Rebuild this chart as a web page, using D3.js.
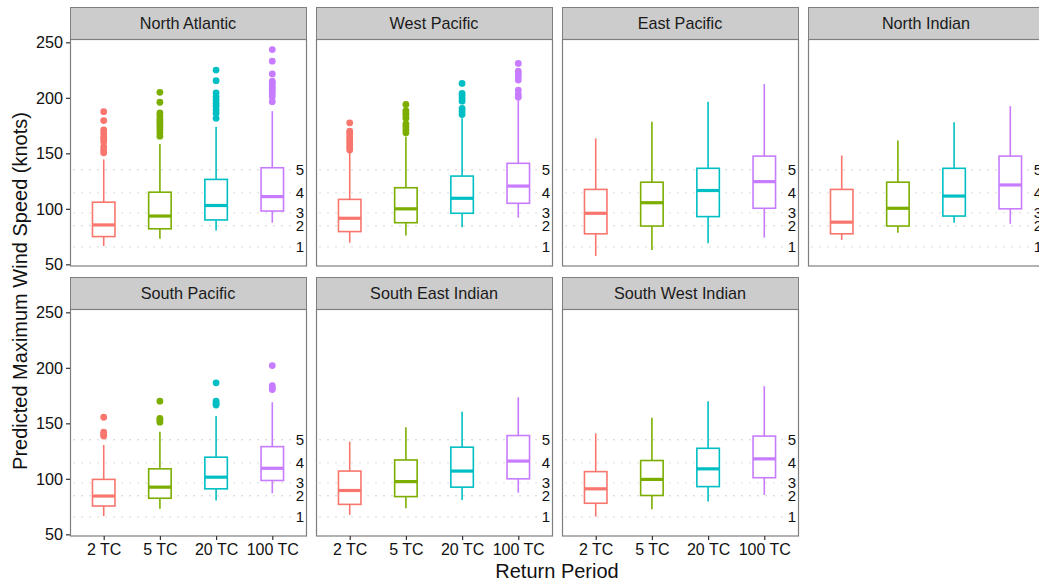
<!DOCTYPE html>
<html>
<head>
<meta charset="utf-8">
<script src="https://cdn.jsdelivr.net/npm/d3@7"></script>
<style>
  body { margin: 0; background: #fff; }
  svg { display: block; font-family: "Liberation Sans", Arial, sans-serif; }
</style>
</head>
<body>
<div id="chart"></div>
<script>
// Data
const regions = ["North Atlantic", "West Pacific", "East Pacific", "North Indian",
                 "South Pacific", "South East Indian", "South West Indian"];
const periods = ["2 TC", "5 TC", "20 TC", "100 TC"];
const colors = ["#F8766D", "#7CAE00", "#00BFC4", "#C77CFF"];

const lowerWhisker = [
    [66.5, 73, 80.5, 87.5],
    [69.5, 76, 83.5, 92],
    [57.5, 63, 69, 74],
    [72, 78.5, 87.5, 86.5],
    [66.5, 73, 80.5, 87],
    [67.5, 73.5, 81, 87.5],
    [66, 72.5, 79.5, 85.5]
];
const q1 = [
    [75, 82, 90, 98],
    [79.5, 87.5, 96, 105],
    [77.5, 84.5, 93, 100.5],
    [77.5, 84.5, 93.5, 100],
    [75.5, 82.5, 91, 98.5],
    [77, 84, 92.5, 100],
    [78, 85, 93, 101]
];
const median = [
    [85.5, 93.5, 103, 111],
    [91.5, 100, 109.5, 120.5],
    [96, 105.5, 116.5, 124.5],
    [88, 100.5, 111.5, 121.5],
    [84.5, 92.5, 101.5, 109.5],
    [89.5, 97.5, 107, 116],
    [91, 99.5, 109, 118]
];
const q3 = [
    [106, 115, 126.5, 137],
    [108.5, 119, 129.5, 141],
    [117.5, 124, 136.5, 147.5],
    [117.5, 124, 136.5, 147.5],
    [99.5, 109, 119.5, 129],
    [107, 117, 128.5, 139],
    [106.5, 116.5, 127.5, 138.5]
];
const upperWhisker = [
    [144.5, 158.5, 174, 188],
    [151, 165, 181.5, 197.5],
    [163.5, 178.5, 196.5, 212.5],
    [148, 161.5, 178, 192.5],
    [130.5, 142.5, 156.5, 169],
    [133.5, 146.5, 160.5, 173.5],
    [141, 155, 170, 183.5]
];
const outliers = [
    [[150.5, 153, 156, 160.5, 163, 165, 168, 171, 179.5, 187.5],
     [165.5, 168.5, 171.5, 174, 176.5, 179, 181, 184, 186.5, 196, 205],
     [181.5, 186, 189, 192.5, 195, 198, 201, 204.5, 215.5, 225],
     [196.5, 201, 204, 206.5, 208.5, 210.5, 213, 215, 221.5, 233, 243.5]],
    [[153, 155.5, 158, 160.5, 163, 165.5, 168, 170, 177.5],
     [168.5, 171, 174, 176.5, 181.5, 184, 186, 188.5, 194],
     [185, 188, 190.5, 197, 199.5, 202, 204, 213],
     [200.5, 203, 207, 216, 219, 221.5, 224, 231]],
    [[], [], [], []],
    [[], [], [], []],
    [[138.5, 140, 142, 155.5],
     [151, 153, 154.5, 170],
     [166.5, 168, 170, 186.5],
     [180.5, 182, 184, 202]],
    [[], [], [], []],
    [[], [], [], []]
];

// Saffir-Simpson category thresholds as drawn
const categoryValues = [65.7, 84.7, 96.4, 114.4, 135.2];
const categoryLabels = ["1", "2", "3", "4", "5"];
const yTicks = [50, 100, 150, 200, 250];

function drawChart() {
    const W = 1039, H = 585;
    const left = 70, panelW = 236, gap = 10;
    const stripH = 32, panelH = 227;
    const rowTop = [7, 277];
    const nCol = 4;

    const svg = d3.select("#chart")
        .append("svg")
        .attr("width", W)
        .attr("height", H);

    svg.append("rect")
        .attr("width", W)
        .attr("height", H)
        .attr("fill", "#fff");

    const x = d3.scalePoint()
        .domain(periods)
        .range([0, panelW])
        .padding(0.6);

    const y = d3.scaleLinear()
        .domain([48.5, 253])
        .range([panelH, 0]);

    const boxW = 22.5;

    regions.forEach((name, r) => {
        const col = r % nCol, row = Math.floor(r / nCol);
        const px = left + col * (panelW + gap);
        const py = rowTop[row] + stripH;

        // Strip
        const strip = svg.append("g")
            .attr("transform", `translate(${px},${rowTop[row]})`);
        strip.append("rect")
            .attr("x", 0.5).attr("y", 0.5)
            .attr("width", panelW).attr("height", stripH)
            .attr("fill", "#cccccc")
            .attr("stroke", "#7f7f7f")
            .attr("stroke-width", 1);
        strip.append("text")
            .attr("x", panelW / 2)
            .attr("y", stripH / 2 + 5.8)
            .attr("text-anchor", "middle")
            .style("font-size", "16.2px")
            .attr("fill", "#1a1a1a")
            .text(name);

        const g = svg.append("g")
            .attr("transform", `translate(${px},${py})`);

        g.append("rect")
            .attr("width", panelW)
            .attr("height", panelH)
            .attr("fill", "#fff");

        // Category reference lines
        categoryValues.forEach((v, i) => {
            g.append("line")
                .attr("x1", 4).attr("x2", panelW - 14)
                .attr("y1", y(v)).attr("y2", y(v))
                .attr("stroke", "#c8c8c8")
                .attr("stroke-width", 1.4)
                .attr("stroke-linecap", "round")
                .attr("stroke-dasharray", "0.1,7.9");
            g.append("text")
                .attr("x", panelW - 6)
                .attr("y", y(v) + 5)
                .attr("text-anchor", "middle")
                .style("font-size", "15px")
                .attr("fill", "#111")
                .text(categoryLabels[i]);
        });

        // Boxes
        periods.forEach((p, k) => {
            const cx = x(p);
            const c = colors[k];
            const bg = g.append("g");
            bg.append("line")
                .attr("x1", cx).attr("x2", cx)
                .attr("y1", y(q3[r][k])).attr("y2", y(upperWhisker[r][k]))
                .attr("stroke", c).attr("stroke-width", 1.6);
            bg.append("line")
                .attr("x1", cx).attr("x2", cx)
                .attr("y1", y(q1[r][k])).attr("y2", y(lowerWhisker[r][k]))
                .attr("stroke", c).attr("stroke-width", 1.6);
            bg.append("rect")
                .attr("x", cx - boxW / 2)
                .attr("y", y(q3[r][k]))
                .attr("width", boxW)
                .attr("height", y(q1[r][k]) - y(q3[r][k]))
                .attr("fill", "#fff")
                .attr("stroke", c)
                .attr("stroke-width", 1.6);
            bg.append("line")
                .attr("x1", cx - boxW / 2).attr("x2", cx + boxW / 2)
                .attr("y1", y(median[r][k])).attr("y2", y(median[r][k]))
                .attr("stroke", c).attr("stroke-width", 3.2);
            bg.selectAll("circle")
                .data(outliers[r][k])
                .join("circle")
                .attr("cx", cx)
                .attr("cy", d => y(d))
                .attr("r", 3.4)
                .attr("fill", c);
        });

        // Panel border
        g.append("rect")
            .attr("x", 0.5).attr("y", 0.5)
            .attr("width", panelW).attr("height", panelH - 0.5)
            .attr("fill", "none")
            .attr("stroke", "#7f7f7f")
            .attr("stroke-width", 1.2);

        // Y axis on first column
        if (col === 0) {
            const ya = g.append("g")
                .call(d3.axisLeft(y).tickValues(yTicks).tickSize(4).tickPadding(3));
            ya.select(".domain").remove();
            ya.selectAll(".tick line").attr("stroke", "#333").attr("stroke-width", 1.2);
            ya.selectAll(".tick text")
                .style("font-size", "16.2px")
                .style("font-family", "'Liberation Sans', Arial, sans-serif")
                .attr("fill", "#111");
        }

        // X axis on bottom row
        if (row === 1) {
            const xa = g.append("g")
                .attr("transform", `translate(0,${panelH})`)
                .call(d3.axisBottom(x).tickSize(4).tickPadding(4));
            xa.select(".domain").remove();
            xa.selectAll(".tick line").attr("stroke", "#333").attr("stroke-width", 1.2);
            xa.selectAll(".tick text")
                .style("font-size", "16px")
                .style("font-family", "'Liberation Sans', Arial, sans-serif")
                .attr("fill", "#111");
        }
    });

    // Axis titles
    const fullRight = left + nCol * panelW + (nCol - 1) * gap;
    svg.append("text")
        .attr("x", (left + fullRight) / 2)
        .attr("y", 578)
        .attr("text-anchor", "middle")
        .style("font-size", "20px")
        .attr("fill", "#111")
        .text("Return Period");

    svg.append("text")
        .attr("transform", `translate(27,291) rotate(-90)`)
        .attr("text-anchor", "middle")
        .style("font-size", "20px")
        .attr("fill", "#111")
        .text("Predicted Maximum Wind Speed (knots)");
}

drawChart();
</script>
</body>
</html>
